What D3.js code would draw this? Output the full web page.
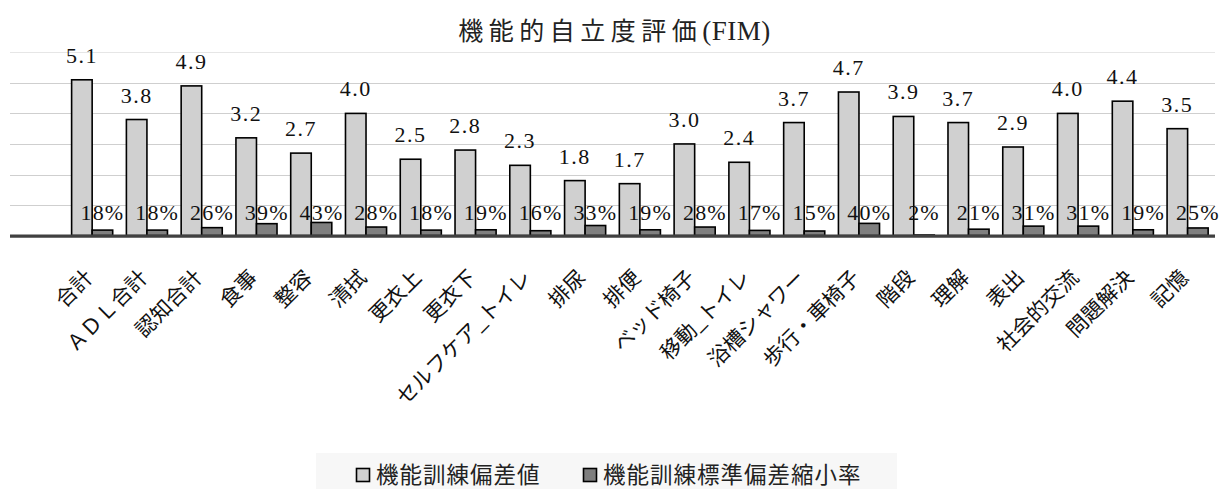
<!DOCTYPE html>
<html>
<head>
<meta charset="utf-8">
<script src="https://cdn.jsdelivr.net/npm/d3@7"></script>
<style>
  html, body { margin: 0; padding: 0; background: #ffffff; }
  svg { display: block; }
</style>
</head>
<body>
<svg id="chart" width="1221" height="489"></svg>
<script>
// FIM items
const categories = [
  "合計", "ＡＤＬ合計", "認知合計", "食事", "整容", "清拭", "更衣上", "更衣下",
  "セルフケア_トイレ", "排尿", "排便", "ベッド椅子", "移動_トイレ", "浴槽シャワー",
  "歩行・車椅子", "階段", "理解", "表出", "社会的交流", "問題解決", "記憶"
];
// 機能訓練偏差値
const deviationValues = [
  5.1, 3.8, 4.9, 3.2, 2.7, 4.0, 2.5, 2.8, 2.3, 1.8, 1.7,
  3.0, 2.4, 3.7, 4.7, 3.9, 3.7, 2.9, 4.0, 4.4, 3.5
];
// 機能訓練標準偏差縮小率 (fraction)
const reductionRates = [
  0.18, 0.18, 0.26, 0.39, 0.43, 0.28, 0.18, 0.19, 0.16, 0.33, 0.19,
  0.28, 0.17, 0.15, 0.40, 0.02, 0.21, 0.31, 0.31, 0.19, 0.25
];
const seriesNames = ["機能訓練偏差値", "機能訓練標準偏差縮小率"];
const yTicks = [0, 1, 2, 3, 4, 5, 6];

const svg = d3.select("#chart");
const plot = { left: 10, right: 1215, top: 52.3, bottom: 235.6 };

// The category axis keeps an empty slot ahead of the first item.
const slots = ["__lead__", ...categories];
const x0 = d3.scaleBand()
  .domain(slots)
  .range([plot.left, plot.right])
  .paddingInner(0.25)
  .paddingOuter(0.125);
const x1 = d3.scaleBand()
  .domain([0, 1])
  .range([0, x0.bandwidth()]);
const y = d3.scaleLinear()
  .domain([0, 6])
  .range([plot.bottom, plot.top]);

const fills = ["#d0d0d0", "#7f7f7f"];
const serifFont = "Liberation Serif";
const cjkFont = "Noto Sans CJK JP";

// Title
const title = svg.append("text")
  .attr("x", (plot.left + plot.right) / 2 + 2)
  .attr("y", 40)
  .attr("text-anchor", "middle")
  .attr("fill", "#222");
title.append("tspan")
  .attr("font-family", cjkFont)
  .attr("font-size", 25)
  .attr("letter-spacing", 5.5)
  .text("機能的自立度評価");
title.append("tspan")
  .attr("font-family", serifFont)
  .attr("font-size", 27)
  .attr("letter-spacing", 0.5)
  .text("(FIM)");

// Horizontal gridlines
svg.append("g")
  .selectAll("line")
  .data(yTicks.filter(t => t > 0))
  .join("line")
  .attr("x1", plot.left)
  .attr("x2", plot.right)
  .attr("y1", d => Math.round(y(d)) + 0.5)
  .attr("y2", d => Math.round(y(d)) + 0.5)
  .attr("stroke", d => d === 6 ? "#e6e6e6" : "#cfcfcf")
  .attr("stroke-width", 1.2);

// Bars
const rows = categories.map((c, i) => ({
  cat: c,
  vals: [deviationValues[i], reductionRates[i]]
}));

const groups = svg.append("g")
  .selectAll("g")
  .data(rows)
  .join("g")
  .attr("transform", d => `translate(${x0(d.cat)},0)`);

groups.selectAll("rect")
  .data(d => d.vals.map((v, k) => ({ v, k })))
  .join("rect")
  .attr("x", d => x1(d.k))
  .attr("width", x1.bandwidth())
  .attr("y", d => y(d.v))
  .attr("height", d => y(0) - y(d.v))
  .attr("fill", d => fills[d.k])
  .attr("stroke", "#000")
  .attr("stroke-width", 1.6);

// Category axis line
svg.append("line")
  .attr("x1", plot.left)
  .attr("x2", plot.right)
  .attr("y1", y(0) + 0.5)
  .attr("y2", y(0) + 0.5)
  .attr("stroke", "#404040")
  .attr("stroke-width", 3.2);

// Value labels for 偏差値
groups.append("text")
  .attr("x", x1(0) + x1.bandwidth() / 2)
  .attr("y", d => y(d.vals[0]) - 17)
  .attr("text-anchor", "middle")
  .attr("font-family", serifFont)
  .attr("font-size", 22)
  .attr("letter-spacing", 1.5)
  .attr("fill", "#111")
  .text(d => d.vals[0].toFixed(1));

// Percentage labels for 縮小率
groups.append("text")
  .attr("x", x1(1) + x1.bandwidth() / 2)
  .attr("y", y(0) - 15.5)
  .attr("text-anchor", "middle")
  .attr("font-family", serifFont)
  .attr("font-size", 22)
  .attr("letter-spacing", 1.2)
  .attr("fill", "#111")
  .text(d => d3.format(".0%")(d.vals[1]));

// Rotated category labels
svg.append("g")
  .selectAll("text")
  .data(categories)
  .join("text")
  .attr("transform", d => `translate(${x0(d) + x0.bandwidth() / 2 + 2},279) rotate(-45)`)
  .attr("text-anchor", "end")
  .attr("font-family", cjkFont)
  .attr("font-size", 21)
  .attr("fill", "#111")
  .text(d => d);

// Legend
const legend = svg.append("g");
legend.append("rect")
  .attr("x", 316)
  .attr("y", 453)
  .attr("width", 581)
  .attr("height", 40)
  .attr("fill", "#f7f7f7");
const legendItems = [
  { name: seriesNames[0], fill: fills[0], sx: 356.5, tx: 376 },
  { name: seriesNames[1], fill: fills[1], sx: 583.5, tx: 603 }
];
legendItems.forEach(it => {
  legend.append("rect")
    .attr("x", it.sx)
    .attr("y", 468.5)
    .attr("width", 13)
    .attr("height", 13)
    .attr("fill", it.fill)
    .attr("stroke", "#000")
    .attr("stroke-width", 1.6);
  legend.append("text")
    .attr("x", it.tx)
    .attr("y", 483)
    .attr("font-family", cjkFont)
    .attr("font-size", 22.5)
    .attr("letter-spacing", 1)
    .attr("fill", "#222")
    .text(it.name);
});
</script>
</body>
</html>
